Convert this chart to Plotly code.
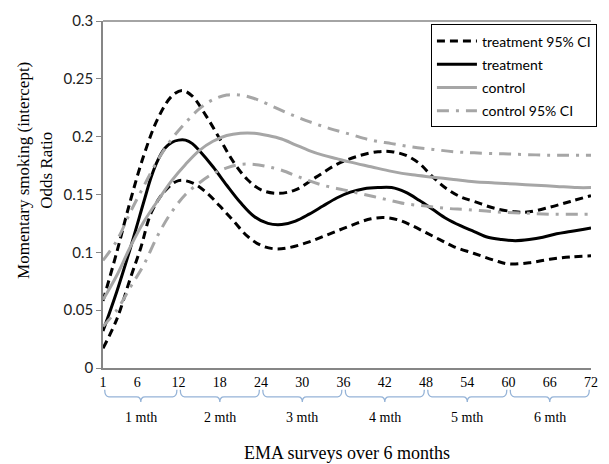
import plotly.graph_objects as go

# ---- data ----
t_trt = [1, 3, 5, 7, 8, 9, 10, 11, 12, 13, 14, 15, 17, 19, 21, 23, 25, 27, 29, 31, 33, 35, 37, 39, 41, 43, 45, 47, 49, 51, 53, 55, 57, 59, 61, 63, 65, 67, 69, 71, 72]
treatment = [0.032, 0.066, 0.104, 0.145, 0.165, 0.180, 0.190, 0.195, 0.197, 0.197, 0.194, 0.188, 0.174, 0.158, 0.143, 0.131, 0.125, 0.124, 0.127, 0.133, 0.140, 0.147, 0.152, 0.155, 0.156, 0.156, 0.152, 0.145, 0.137, 0.129, 0.123, 0.118, 0.113, 0.111, 0.110, 0.111, 0.113, 0.116, 0.118, 0.120, 0.121]

t_trt_up = [1, 3, 5, 7, 9, 11, 12.5, 14, 16, 18, 20, 22, 24, 26.5, 29, 32, 35, 38, 41, 43, 45, 47, 49, 51, 53, 55, 58, 61, 63, 66, 69, 72]
treatment_upper = [0.058, 0.100, 0.145, 0.185, 0.216, 0.235, 0.240, 0.235, 0.218, 0.198, 0.178, 0.163, 0.154, 0.151, 0.154, 0.165, 0.176, 0.183, 0.187, 0.187, 0.184, 0.177, 0.165, 0.155, 0.148, 0.144, 0.138, 0.135, 0.135, 0.139, 0.144, 0.149]

t_trt_lo = [1, 3, 5, 6.5, 8, 10, 12, 14, 16, 18, 20, 22, 24, 26, 28, 31, 34, 37, 40, 42, 44, 46, 48, 50, 52, 55, 58, 60, 63, 66, 69, 72]
treatment_lower = [0.017, 0.042, 0.078, 0.104, 0.134, 0.153, 0.162, 0.160, 0.152, 0.140, 0.127, 0.114, 0.106, 0.103, 0.104, 0.109, 0.116, 0.123, 0.129, 0.130, 0.128, 0.123, 0.117, 0.111, 0.105, 0.099, 0.093, 0.090, 0.091, 0.094, 0.096, 0.097]

t_ctl = [1, 3, 5, 7, 9, 11, 13, 15, 17, 19, 21, 23, 25, 27, 29, 31, 33, 35, 37, 40, 43, 46, 49, 52, 55, 58, 61, 64, 67, 70, 72]
control = [0.059, 0.080, 0.105, 0.127, 0.145, 0.162, 0.176, 0.188, 0.196, 0.201, 0.203, 0.203, 0.201, 0.198, 0.193, 0.188, 0.184, 0.181, 0.178, 0.174, 0.170, 0.167, 0.165, 0.163, 0.161, 0.160, 0.159, 0.158, 0.157, 0.156, 0.156]

t_ctl_up = [1, 3, 5, 7, 9, 11, 13, 15, 17, 19, 21, 23, 25, 28, 31, 34, 37, 40, 43, 46, 49, 52, 55, 60, 66, 72]
control_upper = [0.093, 0.110, 0.135, 0.158, 0.180, 0.198, 0.212, 0.224, 0.232, 0.236, 0.236, 0.233, 0.228, 0.220, 0.213, 0.207, 0.202, 0.197, 0.194, 0.191, 0.189, 0.187, 0.186, 0.185, 0.184, 0.184]

t_ctl_lo = [1, 3, 5, 7, 9, 11, 13, 15, 17, 19, 21, 23, 25, 27, 30, 33, 36, 39, 42, 45, 48, 51, 54, 58, 62, 66, 72]
control_lower = [0.036, 0.050, 0.070, 0.090, 0.115, 0.135, 0.150, 0.160, 0.168, 0.173, 0.176, 0.176, 0.174, 0.171, 0.164, 0.158, 0.154, 0.150, 0.146, 0.142, 0.140, 0.138, 0.137, 0.135, 0.134, 0.133, 0.133]

x_ticks = [1, 6, 12, 18, 24, 30, 36, 42, 48, 54, 60, 66, 72]
y_ticks = [0, 0.05, 0.1, 0.15, 0.2, 0.25, 0.3]
y_tick_text = ["0", "0.05", "0.1", "0.15", "0.2", "0.25", "0.3"]
month_labels = ["1 mth", "2 mth", "3 mth", "4 mth", "5 mth", "6 mth"]

BLACK = "#000000"
GRAY = "#a6a6a6"
SANS = "Lato"
SERIF = "Liberation Serif"
DASH = "8px,5px"
DASHDOT = "12px,7px,3px,7px"

fig = go.Figure()

fig.add_trace(go.Scatter(x=t_trt_up, y=treatment_upper, mode="lines", name="treatment 95% CI",
                         line=dict(color=BLACK, width=3, dash=DASH, shape="spline", smoothing=1.0),
                         legendgroup="g1"))
fig.add_trace(go.Scatter(x=t_trt_lo, y=treatment_lower, mode="lines", name="treatment 95% CI",
                         line=dict(color=BLACK, width=3, dash=DASH, shape="spline", smoothing=1.0),
                         legendgroup="g1", showlegend=False))
fig.add_trace(go.Scatter(x=t_trt, y=treatment, mode="lines", name="treatment",
                         line=dict(color=BLACK, width=3, shape="spline", smoothing=1.0),
                         legendgroup="g2"))
fig.add_trace(go.Scatter(x=t_ctl, y=control, mode="lines", name="control",
                         line=dict(color=GRAY, width=3, shape="spline", smoothing=1.0),
                         legendgroup="g3"))
fig.add_trace(go.Scatter(x=t_ctl_up, y=control_upper, mode="lines", name="control 95% CI",
                         line=dict(color=GRAY, width=3, dash=DASHDOT, shape="spline", smoothing=1.0),
                         legendgroup="g4"))
fig.add_trace(go.Scatter(x=t_ctl_lo, y=control_lower, mode="lines", name="control 95% CI",
                         line=dict(color=GRAY, width=3, dash=DASHDOT, shape="spline", smoothing=1.0),
                         legendgroup="g4", showlegend=False))

# month brackets below the axis
BRACE = "#95b3d7"
shapes = []
annotations = []
y_top, y_mid, y_tip = -0.063, -0.083, -0.098
for i, lab in enumerate(month_labels):
    a = max(i * 12, 1) + 0.25
    b = (i + 1) * 12 - 0.25
    c = (a + b) / 2
    r = 0.6
    path = (f"M {a},{y_top} Q {a},{y_mid} {a + r},{y_mid} L {c - r},{y_mid} "
            f"Q {c},{y_mid} {c},{y_tip} Q {c},{y_mid} {c + r},{y_mid} "
            f"L {b - r},{y_mid} Q {b},{y_mid} {b},{y_top}")
    shapes.append(dict(type="path", path=path, xref="x", yref="paper",
                       line=dict(color=BRACE, width=1.3)))
    annotations.append(dict(text=lab, x=c, y=-0.144, xref="x", yref="paper",
                            showarrow=False, xanchor="center", yanchor="middle",
                            font=dict(family=SERIF, size=14, color=BLACK)))

# top border line
shapes.append(dict(type="line", x0=0, x1=1, y0=1, y1=1, xref="paper", yref="paper",
                   line=dict(color="#868686", width=1.5)))

annotations.append(dict(text="EMA surveys over 6 months", x=0.5, y=-0.244, xref="paper", yref="paper",
                        showarrow=False, xanchor="center", yanchor="middle",
                        font=dict(family=SERIF, size=18, color=BLACK)))
annotations.append(dict(text="Momentary smoking (intercept)<br>Odds Ratio", x=-0.14, y=0.57,
                        xref="paper", yref="paper", textangle=-90, showarrow=False,
                        xanchor="center", yanchor="middle",
                        font=dict(family=SERIF, size=17, color=BLACK)))

fig.update_layout(
    width=609, height=464,
    margin=dict(l=103, r=11, t=20, b=96),
    paper_bgcolor="white", plot_bgcolor="white",
    showlegend=True,
    legend=dict(x=0.672, y=0.99, xanchor="left", yanchor="top",
                bgcolor="white", bordercolor=BLACK, borderwidth=1,
                font=dict(family=SANS, size=14, color=BLACK),
                traceorder="grouped", tracegroupgap=2, itemwidth=40),
    shapes=shapes,
    annotations=annotations,
)
fig.update_xaxes(range=[1, 72], tickvals=x_ticks, ticks="", showgrid=False, zeroline=False,
                 showline=True, linecolor="#868686", linewidth=1.5,
                 tickfont=dict(family=SERIF, size=14, color=BLACK))
fig.update_yaxes(range=[0, 0.3], tickvals=y_ticks, ticktext=y_tick_text, ticks="outside",
                 ticklen=5, tickcolor="#868686", showgrid=False, zeroline=False,
                 showline=True, linecolor="#868686", linewidth=1.5,
                 tickfont=dict(family=SANS, size=15, color="#222222"))

fig.write_html("out.html")
